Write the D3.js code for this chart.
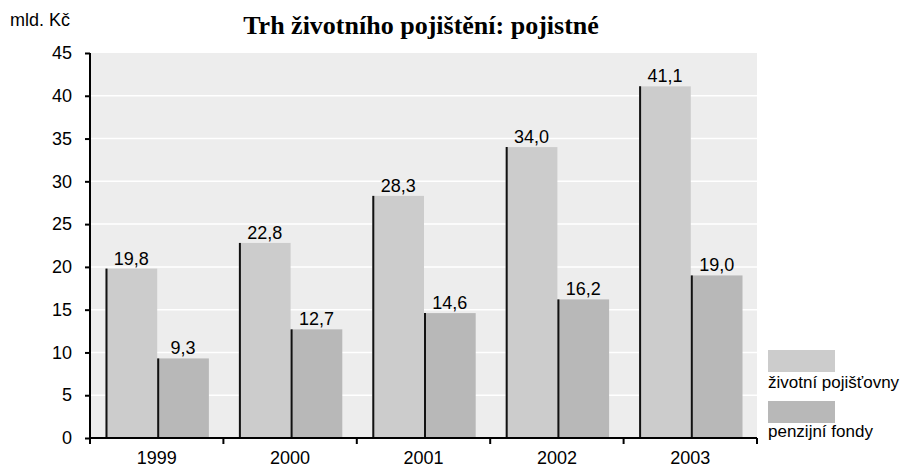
<!DOCTYPE html>
<html><head><meta charset="utf-8">
<script src="https://cdn.jsdelivr.net/npm/d3@7"></script>
<style>body{margin:0;background:#fff}</style>
</head><body>
<svg id="c" width="901" height="468"></svg>
<script>
const years = ["1999","2000","2001","2002","2003"];
const seriesNames = ["životní pojišťovny","penzijní fondy"];
const zivotni = [19.8, 22.8, 28.3, 34.0, 41.1];
const penzijni = [9.3, 12.7, 14.6, 16.2, 19.0];
const yTicks = [0,5,10,15,20,25,30,35,40,45];
const colors = ["#cccccc","#b8b8b8"];

const FONT = "Liberation Sans, Arial, sans-serif";
const svg = d3.select("#c");
const x = d3.scaleBand().domain(years).range([90, 757]).paddingInner(0).paddingOuter(0);
const xs = d3.scaleBand().domain([0,1]).range([15.5, x.bandwidth()-14.5]);
const y = d3.scaleLinear().domain([0,45]).range([438, 53]);

svg.append("rect").attr("x",90).attr("y",y(45)).attr("width",757-90).attr("height",y(0)-y(45)).attr("fill","#ededed");
svg.append("g").selectAll("line").data(yTicks.filter(d=>d>0 && d<45)).join("line")
  .attr("x1",90).attr("x2",757).attr("y1",d=>y(d)).attr("y2",d=>y(d))
  .attr("stroke","#fff").attr("stroke-width",1.5);

const fmt = v => v.toFixed(1).replace(".",",");
const series = [zivotni, penzijni];
series.forEach((vals,si)=>{
  const g = svg.append("g");
  g.selectAll("rect").data(years).join("rect")
    .attr("x",d=>x(d)+xs(si)).attr("width",xs.bandwidth())
    .attr("y",(d,i)=>y(vals[i])).attr("height",(d,i)=>y(0)-y(vals[i]))
    .attr("fill",colors[si]);
  g.selectAll("line").data(years).join("line")
    .attr("x1",d=>x(d)+xs(si)+1).attr("x2",d=>x(d)+xs(si)+1)
    .attr("y1",(d,i)=>y(vals[i])).attr("y2",y(0))
    .attr("stroke","#111").attr("stroke-width",2);
  g.selectAll("text").data(years).join("text")
    .attr("x",d=>x(d)+xs(si)+xs.bandwidth()/2).attr("y",(d,i)=>y(vals[i])-4)
    .attr("text-anchor","middle").attr("font-family",FONT)
    .attr("font-size",18).attr("fill","#000").text((d,i)=>fmt(vals[i]));
});

const ya = svg.append("g").attr("transform","translate(90,0)")
  .call(d3.axisLeft(y).tickValues(yTicks).tickSize(5).tickPadding(13).tickFormat(d3.format("d")));
const xa = svg.append("g").attr("transform",`translate(0,${y(0)})`)
  .call(d3.axisBottom(x).tickSize(0).tickPadding(13));
[ya,xa].forEach(a=>{
  a.selectAll("path").attr("stroke","#000").attr("stroke-width",2);
  a.selectAll("line").attr("stroke","#000").attr("stroke-width",2);
  a.selectAll("text").attr("font-family",FONT).attr("font-size",18).attr("fill","#000");
});
ya.select(".domain").attr("d","M0,"+y(45)+"V"+(y(0)+1));
xa.select(".domain").attr("d","M89,0H757");
svg.append("g").selectAll("line").data(years.concat(["end"])).join("line")
  .attr("x1",(d,i)=>90+i*x.bandwidth()).attr("x2",(d,i)=>90+i*x.bandwidth())
  .attr("y1",y(0)).attr("y2",y(0)+6).attr("stroke","#000").attr("stroke-width",2);

svg.append("text").attr("x",10).attr("y",26).attr("font-family",FONT)
  .attr("font-size",18).text("mld. Kč");
svg.append("text").attr("x",421).attr("y",34).attr("text-anchor","middle")
  .attr("font-family","Liberation Serif, Times New Roman, serif").attr("font-weight","bold")
  .attr("font-size",26).text("Trh životního pojištění: pojistné");

const leg = svg.append("g");
seriesNames.forEach((n,i)=>{
  leg.append("rect").attr("x",768).attr("y",350+i*51).attr("width",67).attr("height",22).attr("fill",colors[i]);
  leg.append("text").attr("x",768).attr("y",388+i*49).attr("font-family",FONT)
    .attr("font-size",17).text(n);
});
</script>
</body></html>
